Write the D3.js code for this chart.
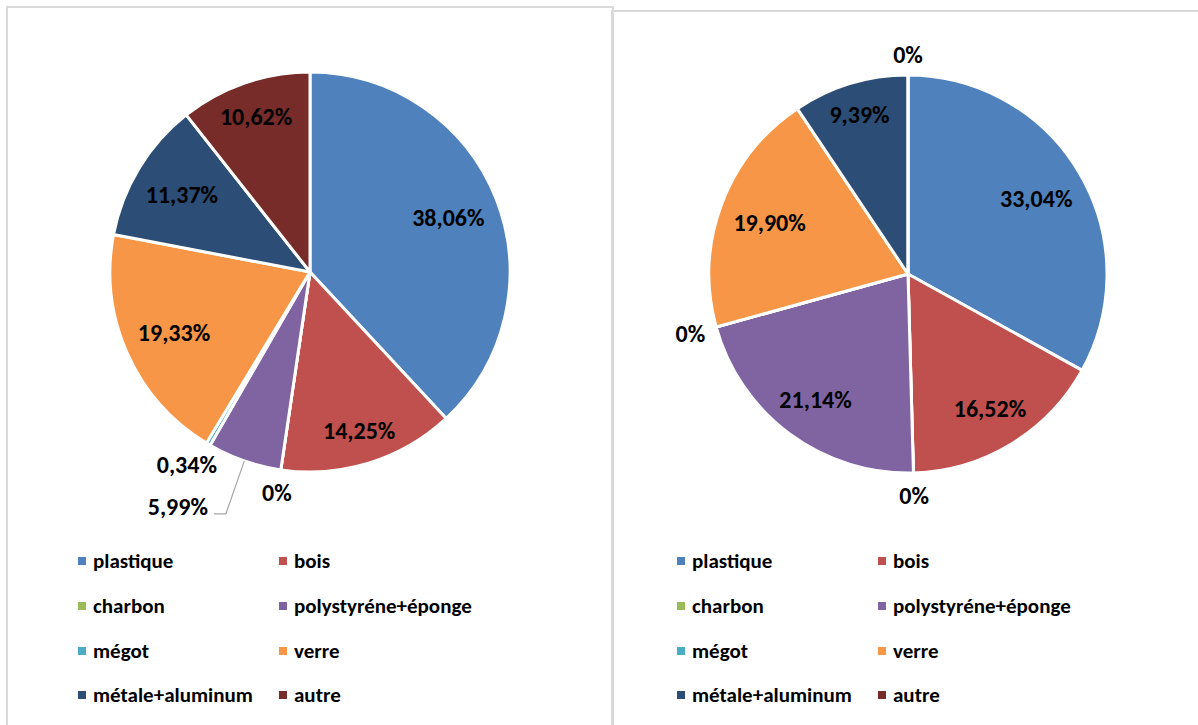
<!DOCTYPE html>
<html>
<head>
<meta charset="utf-8">
<script src="https://cdn.jsdelivr.net/npm/d3@7"></script>
<style>
  html, body { margin: 0; padding: 0; background: #fff; }
  svg { display: block; }
  text { font-family: Carlito, Calibri, Lato, "Open Sans", sans-serif; font-weight: 700; fill: #000; }
</style>
</head>
<body>
<svg id="chart" width="1198" height="725"></svg>
<script>
// Waste composition, two sites, percentages per category
const categories = ["plastique", "bois", "charbon", "polystyréne+éponge", "mégot", "verre", "métale+aluminum", "autre"];
const colors = ["#4F81BD", "#C0504D", "#9BBB59", "#8064A2", "#4BACC6", "#F79646", "#2C4D75", "#772C2A"];
const valuesLeft = [38.06, 14.25, 0, 5.99, 0.34, 19.33, 11.37, 10.62];
const valuesRight = [33.04, 16.52, 0, 21.14, 0, 19.90, 9.39, 0];

const svg = d3.select("#chart");

const locale = d3.formatLocale({ decimal: ",", thousands: " ", grouping: [3], currency: ["", ""] });
const fmt2 = locale.format(".2f");
const pct = v => (v === 0 ? "0%" : fmt2(v) + "%");

// Panel frames
svg.append("rect").attr("x", 7).attr("y", 7).attr("width", 606).attr("height", 800)
  .attr("fill", "none").attr("stroke", "#D9D9D9").attr("stroke-width", 2);
svg.append("rect").attr("x", 612).attr("y", 11).attr("width", 620).attr("height", 800)
  .attr("fill", "none").attr("stroke", "#D9D9D9").attr("stroke-width", 2);

const pie = d3.pie().sort(null).value(d => d);

function drawPie(values, cx, cy, r, legendX) {
  const g = svg.append("g").attr("transform", `translate(${cx},${cy})`);
  const arcs = pie(values);
  const arc = d3.arc().innerRadius(0).outerRadius(r);

  g.selectAll("path.slice").data(arcs).enter().append("path")
    .attr("class", "slice")
    .attr("d", arc)
    .attr("fill", (d, i) => colors[i])
    .attr("stroke", "#fff")
    .attr("stroke-width", 3)
    .attr("stroke-linejoin", "round");

  const fontSize = 24;
  const boxH = 20;

  arcs.forEach((d, i) => {
    const v = values[i];
    const a = (d.startAngle + d.endAngle) / 2;
    const ux = Math.sin(a), uy = -Math.cos(a);
    const txt = pct(v);
    const t = g.append("text").attr("font-size", fontSize).text(txt);
    const w = t.node().getComputedTextLength();
    if (v >= 8) {
      // inside: keep the label box just within the rim
      const dist = r * 0.93 - (Math.abs(ux) * w / 2 + Math.abs(uy) * boxH / 2);
      t.attr("x", ux * dist).attr("y", uy * dist)
        .attr("text-anchor", "middle").attr("dominant-baseline", "central");
    } else if (v >= 2) {
      // small slice: label outside with a leader line
      const p0 = [ux * r, uy * r];
      const p1 = [ux * (r + 56), uy * (r + 56)];
      const side = ux < 0 ? -1 : 1;
      const p2 = [p1[0] + side * 12, p1[1]];
      g.insert("path", "text")
        .attr("d", d3.line()([p0, p1, p2]))
        .attr("fill", "none").attr("stroke", "#A6A6A6").attr("stroke-width", 1.2);
      t.attr("x", p2[0] + side * 6).attr("y", p2[1] - 7)
        .attr("text-anchor", side < 0 ? "end" : "start")
        .attr("dominant-baseline", "central");
    } else {
      // tiny or empty slice: label just beyond the rim
      const off = r + 12;
      t.attr("text-anchor", "middle").attr("dominant-baseline", "central")
        .attr("x", ux * off + ux * w / 2).attr("y", uy * off + uy * boxH / 2 + 1);
    }
  });

  // Legend, two columns
  const rowY = [561, 606, 651, 695];
  const colDX = [0, 201];
  const lg = svg.append("g");
  categories.forEach((c, i) => {
    const col = i % 2, row = Math.floor(i / 2);
    const x = legendX + colDX[col], y = rowY[row];
    lg.append("rect").attr("x", x).attr("y", y - 4).attr("width", 8).attr("height", 8)
      .attr("fill", colors[i]);
    lg.append("text").attr("x", x + 15).attr("y", y)
      .attr("dominant-baseline", "central").attr("font-size", 21).text(c);
  });
}

drawPie(valuesLeft, 310, 272, 200, 78);
drawPie(valuesRight, 908, 274, 199, 677);
</script>
</body>
</html>
